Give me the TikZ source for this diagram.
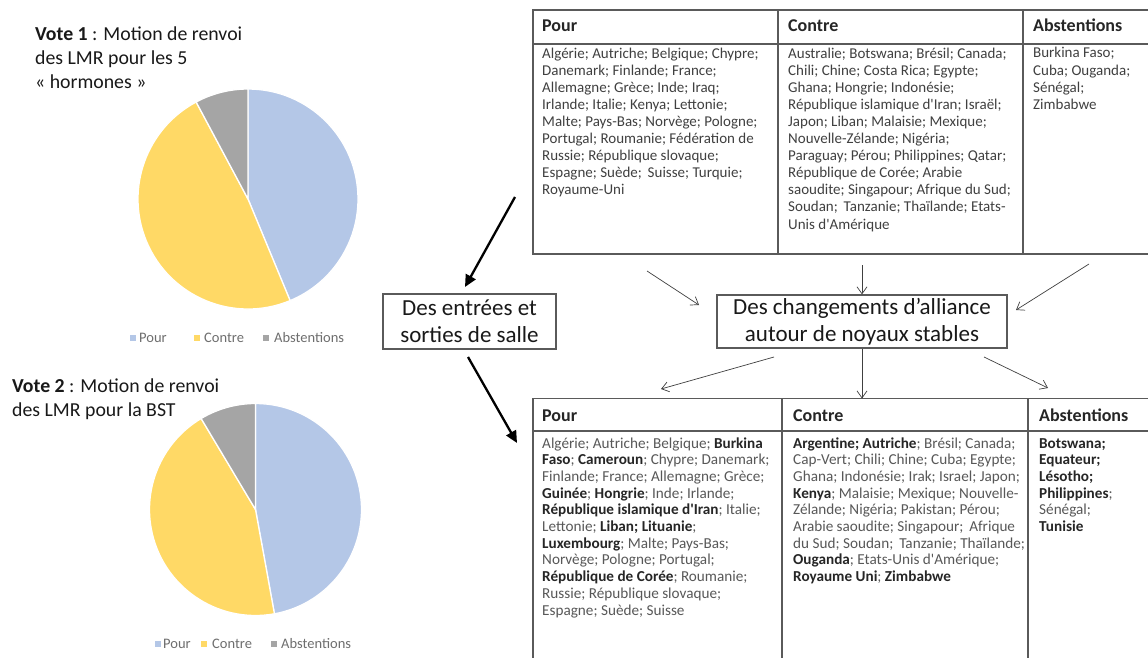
\documentclass[tikz,border=0pt]{standalone}
\usepackage{fontspec}
\setmainfont{Carlito}
\usepackage{tikz}
\usetikzlibrary{arrows.meta,positioning}

\definecolor{pourblue}{HTML}{B4C7E7}
\definecolor{contreyellow}{HTML}{FFD966}
\definecolor{abstgray}{HTML}{A5A5A5}
\definecolor{gridline}{HTML}{5A5A5A}
\definecolor{bodytext}{HTML}{404040}
\definecolor{lighttext}{HTML}{585858}
\definecolor{legendtext}{HTML}{6E6E6E}

\newcommand{\apo}{\textquotesingle}
\newcommand{\pays}[1]{\textbf{\color{black!85}#1}}
\newcommand{\esp}{\hspace{2.5pt} }

% multi-line nodes sit on the baseline of their last line
\tikzset{
  cellbox/.style={draw=gridline, line width=1.2pt, anchor=north west, inner sep=0pt, outer sep=0pt},
  headtext/.style={anchor=base west, inner sep=0pt, font=\fontsize{18}{20}\selectfont\bfseries, text=black!85},
  toptext/.style={anchor=base west, align=left, inner sep=0pt, font=\fontsize{15}{17.1}\selectfont, text=bodytext},
  bottext/.style={anchor=base west, align=left, inner sep=0pt, font=\fontsize{15.2}{16.7}\selectfont, text=lighttext},
  votetitle/.style={anchor=base west, align=left, inner sep=0pt, font=\fontsize{19.8}{24}\selectfont, text=black!90},
  legsq/.style={minimum size=6pt, inner sep=0pt},
  legtext/.style={anchor=base west, inner sep=0pt, font=\fontsize{14.5}{16}\selectfont, text=legendtext},
  bigbox/.style={draw=gridline, line width=1.2pt, fill=white, inner sep=0pt, align=center, font=\fontsize{23}{27.4}\selectfont, text=black!90},
  slice/.style={draw=white, line width=1.3pt},
  thinarrow/.style={-{Straight Barb[length=7pt,width=10pt]}, line width=0.7pt, draw=black!75},
  thickarrow/.style={-{Triangle[length=12pt,width=11pt]}, line width=2.3pt},
}

\begin{document}
\begin{tikzpicture}[x=1pt, y=-1pt]
\path[use as bounding box, clip] (0,0) rectangle (1148,658);
\fill[white] (0,0) rectangle (1148,658);

% vote 1
\node[votetitle] (titre1) at (35,89) {\textbf{Vote 1} : Motion de renvoi\\des LMR pour les 5\\« hormones »};
\coordinate (pieA) at (248,199);
\filldraw[slice, fill=pourblue] (pieA) -- ++(90:110pt) arc[start angle=90, end angle=-67.5, radius=110pt] -- cycle;
\filldraw[slice, fill=contreyellow] (pieA) -- ++(-67.5:110pt) arc[start angle=-67.5, end angle=-241.875, radius=110pt] -- cycle;
\filldraw[slice, fill=abstgray] (pieA) -- ++(118.125:110pt) arc[start angle=118.125, end angle=90, radius=110pt] -- cycle;
\node[legsq, fill=pourblue] (legA1) at (133,338) {};
\node[legtext] (legA1t) at (139,342.5) {Pour};
\node[legsq, fill=contreyellow] (legA2) at (197,338) {};
\node[legtext] (legA2t) at (204,342.5) {Contre};
\node[legsq, fill=abstgray] (legA3) at (266,338) {};
\node[legtext] (legA3t) at (274,342.5) {Abstentions};

% vote 2
\node[votetitle] (titre2) at (12,416) {\textbf{Vote 2} : Motion de renvoi\\des LMR pour la BST};
\coordinate (pieB) at (255.5,509.5);
\filldraw[slice, fill=pourblue] (pieB) -- ++(90:106pt) arc[start angle=90, end angle=-79.714, radius=106pt] -- cycle;
\filldraw[slice, fill=contreyellow] (pieB) -- ++(-79.714:106pt) arc[start angle=-79.714, end angle=-239.143, radius=106pt] -- cycle;
\filldraw[slice, fill=abstgray] (pieB) -- ++(120.857:106pt) arc[start angle=120.857, end angle=90, radius=106pt] -- cycle;
\node[legsq, fill=pourblue] (legB1) at (158,644) {};
\node[legtext] (legB1t) at (163,648.5) {Pour};
\node[legsq, fill=contreyellow] (legB2) at (204,644) {};
\node[legtext] (legB2t) at (212,648.5) {Contre};
\node[legsq, fill=abstgray] (legB3) at (274,644) {};
\node[legtext] (legB3t) at (281,648.5) {Abstentions};

% tableau du haut
\node[cellbox, minimum width=245pt, minimum height=34pt] (tPourH) at (533,10) {};
\node[cellbox, minimum width=245pt, minimum height=34pt, right=0pt of tPourH] (tContreH) {};
\node[cellbox, minimum width=140pt, minimum height=34pt, right=0pt of tContreH] (tAbstH) {};
\node[cellbox, minimum width=245pt, minimum height=210pt, below=0pt of tPourH] (tPourB) {};
\node[cellbox, minimum width=245pt, minimum height=210pt, below=0pt of tContreH] (tContreB) {};
\node[cellbox, minimum width=140pt, minimum height=210pt, below=0pt of tAbstH] (tAbstB) {};

\node[headtext] at (542,32) {Pour};
\node[headtext] at (788,32) {Contre};
\node[headtext] at (1033,32) {Abstentions};

\node[toptext] (tPourL) at (542,194.8) {Algérie; Autriche; Belgique; Chypre;\\
Danemark; Finlande; France;\\
Allemagne; Grèce; Inde; Iraq;\\
Irlande; Italie; Kenya; Lettonie;\\
Malte; Pays-Bas; Norvège; Pologne;\\
Portugal; Roumanie; Fédération de\\
Russie; République slovaque;\\
Espagne; Suède;\esp Suisse; Turquie;\\
Royaume-Uni};
\node[toptext] (tContreL) at (788,229) {Australie; Botswana; Brésil; Canada;\\
Chili; Chine; Costa Rica; Egypte;\\
Ghana; Hongrie; Indonésie;\\
République islamique d\apo Iran; Israël;\\
Japon; Liban; Malaisie; Mexique;\\
Nouvelle-Zélande; Nigéria;\\
Paraguay; Pérou; Philippines; Qatar;\\
République de Corée; Arabie\\
saoudite; Singapour; Afrique du Sud;\\
Soudan;\esp Tanzanie; Thaïlande; Etats-\\
Unis d\apo Amérique};
\node[toptext] (tAbstL) at (1033,109.3) {Burkina Faso;\\
Cuba; Ouganda;\\
Sénégal;\\
Zimbabwe};

% tableau du bas
\node[cellbox, minimum width=249pt, minimum height=32.5pt] (bPourH) at (533,398.5) {};
\node[cellbox, minimum width=246pt, minimum height=32.5pt, right=0pt of bPourH] (bContreH) {};
\node[cellbox, minimum width=140pt, minimum height=32.5pt, right=0pt of bContreH] (bAbstH) {};
\node[cellbox, minimum width=249pt, minimum height=240pt, below=0pt of bPourH] (bPourB) {};
\node[cellbox, minimum width=246pt, minimum height=240pt, below=0pt of bContreH] (bContreB) {};
\node[cellbox, minimum width=140pt, minimum height=240pt, below=0pt of bAbstH] (bAbstB) {};

\node[headtext] at (542,421) {Pour};
\node[headtext] at (793,421) {Contre};
\node[headtext] at (1039,421) {Abstentions};

\node[bottext] (bPourL) at (542,615) {Algérie; Autriche; Belgique; \pays{Burkina}\\
\pays{Faso}; \pays{Cameroun}; Chypre; Danemark;\\
Finlande; France; Allemagne; Grèce;\\
\pays{Guinée}; \pays{Hongrie}; Inde; Irlande;\\
\pays{République islamique d\apo Iran}; Italie;\\
Lettonie; \pays{Liban; Lituanie};\\
\pays{Luxembourg}; Malte; Pays-Bas;\\
Norvège; Pologne; Portugal;\\
\pays{République de Corée}; Roumanie;\\
Russie; République slovaque;\\
Espagne; Suède; Suisse};
\node[bottext] (bContreL) at (793,581.6) {\pays{Argentine; Autriche}; Brésil; Canada;\\
Cap-Vert; Chili; Chine; Cuba; Egypte;\\
Ghana; Indonésie; Irak; Israel; Japon;\\
\pays{Kenya}; Malaisie; Mexique; Nouvelle-\\
Zélande; Nigéria; Pakistan; Pérou;\\
Arabie saoudite; Singapour;\esp Afrique\\
du Sud; Soudan;\esp Tanzanie; Thaïlande;\\
\pays{Ouganda}; Etats-Unis d\apo Amérique;\\
\pays{Royaume Uni}; \pays{Zimbabwe}};
\node[bottext] (bAbstL) at (1039,531.5) {\pays{Botswana;}\\
\pays{Equateur;}\\
\pays{Lésotho;}\\
\pays{Philippines};\\
Sénégal;\\
\pays{Tunisie}};

% encadres du milieu
\node[bigbox, minimum width=173pt, minimum height=55pt] (salle) at (469.5,321.5) {Des entrées et\\sorties de salle};
\node[bigbox, minimum width=290pt, minimum height=53pt] (alliance) at (862,321.5) {Des changements d’alliance\\autour de noyaux stables};

% fleches
\coordinate (salleIn) at (515,197);
\coordinate (salleTip) at (465,287);
\coordinate (salleOut) at (468,357);
\coordinate (basTip) at (517,443);
\draw[thickarrow] (salleIn) -- (salleTip);
\draw[thickarrow] (salleOut) -- (basTip);

\coordinate (hautG) at (647,271);
\coordinate (hautGtip) at (699,305);
\coordinate (hautM) at (862,265);
\coordinate (hautD) at (1089,264);
\coordinate (hautDtip) at (1016,310);
\draw[thinarrow] (hautG) -- (hautGtip);
\draw[thinarrow] (hautM) -- (alliance.north);
\draw[thinarrow] (hautD) -- (hautDtip);

\coordinate (basG) at (774,357);
\coordinate (basGtip) at (661,389);
\coordinate (basD) at (984,357);
\coordinate (basDtip) at (1048,388);
\draw[thinarrow] (basG) -- (basGtip);
\draw[thinarrow] (alliance.south) -- (alliance.south |- bContreH.north);
\draw[thinarrow] (basD) -- (basDtip);
\end{tikzpicture}
\end{document}
